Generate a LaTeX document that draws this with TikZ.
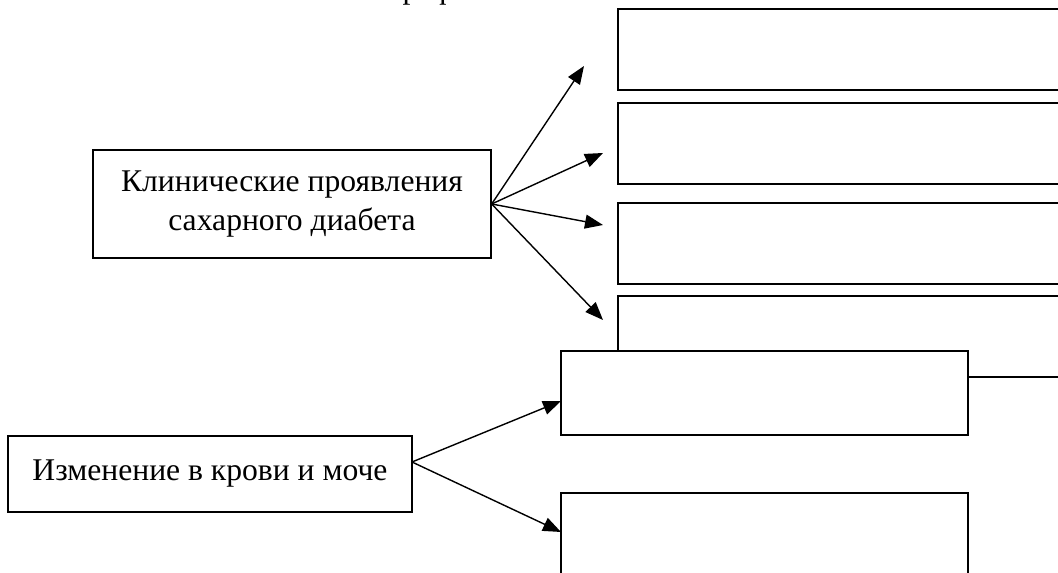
\documentclass[tikz,border=0pt]{standalone}
\usepackage{fontspec}
\setmainfont{Liberation Serif}
\usetikzlibrary{arrows.meta}

\begin{document}
\begin{tikzpicture}[x=0.02cm, y=-0.02cm, line width=0.8pt, font=\fontsize{18}{22}\selectfont,
  box/.style={draw, fill=white, inner sep=0pt, align=center},
  arr/.style={-{Triangle[length=0.36cm, width=0.28cm]}}]
\clip (0,0) rectangle (1058,573);

% Heading (cut off)
\node[anchor=base west, inner sep=0pt] (head) at (402,-1) {рафи};

% Nodes
\node[box, minimum width=7.96cm, minimum height=2.16cm] (klin) at (292,204) {Клинические проявления\\сахарного диабета};
\node[box, minimum width=8.08cm, minimum height=1.52cm] (krov) at (210,474) {Изменение в крови и моче};

\node[box, minimum width=9.24cm, minimum height=1.62cm] (k1) at (849,49.5) {};
\node[box, minimum width=9.24cm, minimum height=1.62cm] (k2) at (849,143.5) {};
\node[box, minimum width=9.24cm, minimum height=1.62cm] (k3) at (849,243.5) {};
\node[box, minimum width=9.24cm, minimum height=1.62cm] (k4) at (849,336.5) {};

\node[box, minimum width=8.14cm, minimum height=1.68cm] (m1) at (764.5,393) {};
\node[box, minimum width=8.14cm, minimum height=1.94cm] (m2) at (764.5,541.5) {};

% Arrow ends
\coordinate (t1) at (584,66);
\coordinate (t2) at (603,153);
\coordinate (t3) at (603,225);
\coordinate (t4) at (603,320);
\coordinate (fork) at (412,462);
\coordinate (t5) at (561,401);
\coordinate (t6) at (561,532);

% Edges
\draw[arr] (klin.east) -- (t1);
\draw[arr] (klin.east) -- (t2);
\draw[arr] (klin.east) -- (t3);
\draw[arr] (klin.east) -- (t4);
\draw[arr] (fork) -- (t5);
\draw[arr] (fork) -- (t6);

\end{tikzpicture}
\end{document}
